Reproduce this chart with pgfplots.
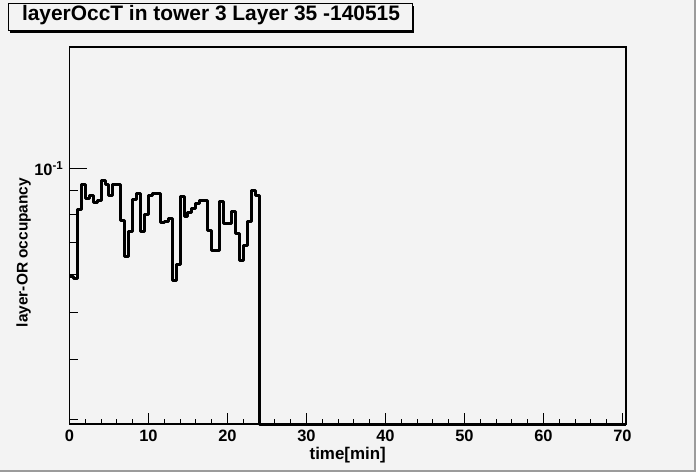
\documentclass[border=0pt]{standalone}
\usepackage{fontspec}
\setmainfont{Liberation Sans}
\usepackage{pgfplots}
\usepackage{pgfplotstable}
\pgfplotsset{compat=1.18}

\definecolor{canvas}{RGB}{243,243,243}
\definecolor{rim}{RGB}{155,155,155}

% occupancy per 0.5 min bin (left edge); empty bins after 24 min sit on the axis floor
\pgfplotstableread{
t     occ
0.0   0.0595
0.5   0.0588
1.0   0.0820
1.5   0.0926
2.0   0.0865
2.5   0.0879
3.0   0.0847
3.5   0.0858
4.0   0.0944
4.5   0.0926
5.0   0.0879
5.5   0.0926
6.0   0.0926
6.5   0.0780
7.0   0.0656
7.5   0.0737
8.0   0.0860
8.5   0.0886
9.0   0.0740
9.5   0.0800
10.0  0.0877
10.5  0.0886
11.0  0.0886
11.5  0.0772
12.0  0.0773
12.5  0.0786
13.0  0.0584
13.5  0.0630
14.0  0.0872
14.5  0.0792
15.0  0.0807
15.5  0.0824
16.0  0.0844
16.5  0.0855
17.0  0.0855
17.5  0.0743
18.0  0.0675
18.5  0.0675
19.0  0.0851
19.5  0.0767
20.0  0.0767
20.5  0.0811
21.0  0.0731
21.5  0.0643
22.0  0.0691
22.5  0.0773
23.0  0.0897
23.5  0.0876
24.0  0.0293
70.45 0.0293
}\occtable

\begin{document}
\begin{tikzpicture}
\fill[canvas] (0bp,0bp) rectangle (696bp,472bp);
\fill[rim] (694bp,0bp) rectangle (696bp,472bp);
\fill[rim] (0bp,0bp) rectangle (696bp,2bp);
\useasboundingbox (0bp,0bp) rectangle (696bp,472bp);

% title box with shadow
\fill[black] (10bp,439bp) rectangle (414bp,466bp);
\filldraw[fill=canvas, draw=black, line width=1bp] (8bp,441bp) rectangle (412bp,468bp);
\node[anchor=base, inner sep=0, font=\fontsize{21}{24}\selectfont\bfseries]
  at (211bp,451.3bp) {layerOccT in tower 3 Layer 35 -140515};

\begin{axis}[
    at={(69.5bp,48bp)}, anchor=south west,
    scale only axis, width=556.5bp, height=377bp,
    xmin=0, xmax=70.45,
    ymode=log, ymin=0.0293, ymax=0.179,
    clip=false,
    axis line style={line width=1.2bp},
    tick align=inside,
    xtick pos=lower, ytick pos=left,
    xtick={0,10,...,70}, minor x tick num=4,
    ytick={0.1}, yticklabels={10\textsuperscript{-1}},
    minor ytick={0.03,0.04,0.05,0.06,0.07,0.08,0.09},
    xtick style={black, line width=1bp, /pgfplots/major tick length=11bp, /pgfplots/minor tick length=5.5bp},
    ytick style={black, line width=1bp, /pgfplots/major tick length=17bp, /pgfplots/minor tick length=8.5bp},
    /pgf/number format/assume math mode=true,
    xticklabel style={font=\fontsize{16.5}{16.5}\selectfont\bfseries, anchor=base, yshift=-17.7bp, inner sep=0},
    yticklabel style={font=\fontsize{16.5}{16.5}\selectfont\bfseries, anchor=east, xshift=-6bp, inner sep=0},
    xlabel={time[min]},
    xlabel style={font=\fontsize{17}{17}\selectfont\bfseries, at={(axis description cs:0.5,0)}, anchor=base, yshift=-35bp, inner sep=0},
    ylabel={layer-OR occupancy},
    ylabel style={font=\fontsize{15.5}{15.5}\selectfont\bfseries, at={([xshift=-42bp]axis description cs:0,0.455)}, anchor=base, inner sep=0},
]
\addplot[const plot mark left, black, line width=3bp, line join=round] table[x=t, y=occ] {\occtable};
\end{axis}
\end{tikzpicture}
\end{document}
